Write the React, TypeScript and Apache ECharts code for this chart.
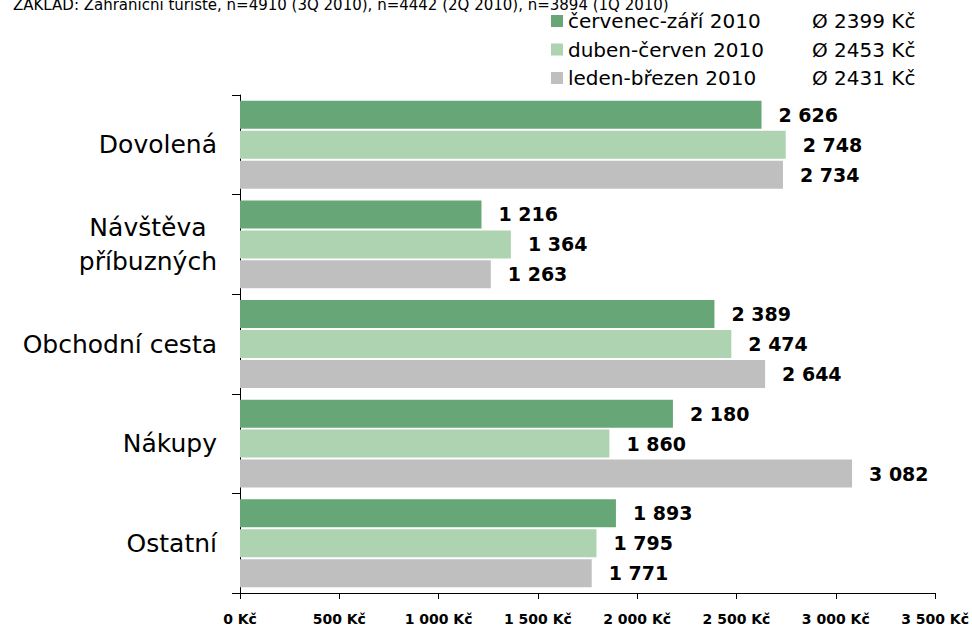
import React, { useEffect, useRef } from "react";
import * as echarts from "echarts";

const categories = ["Dovolená", "Návštěva\npříbuzných", "Obchodní cesta", "Nákupy", "Ostatní"];
const seriesNames = ["červenec-září 2010", "duben-červen 2010", "leden-březen 2010"];
const seriesAverages = [2399, 2453, 2431];
const q3Values = [2626, 1216, 2389, 2180, 1893];
const q2Values = [2748, 1364, 2474, 1860, 1795];
const q1Values = [2734, 1263, 2644, 3082, 1771];
const colors = ["#67a677", "#add3b1", "#bfbfbf"];
const xTicks = { min: 0, max: 3500, interval: 500 };
const noteText = "ZÁKLAD: Zahraniční turisté, n=4910 (3Q 2010), n=4442 (2Q 2010), n=3894 (1Q 2010)";

const FONT = "'DejaVu Sans', Verdana, sans-serif";
const fmt = (v: number) => String(v).replace(/\B(?=(\d{3})+(?!\d))/g, " ");

export default function App() {
  const ref = useRef<HTMLDivElement>(null);
  useEffect(() => {
    if (!ref.current) return;
    const chart = echarts.init(ref.current, null, { renderer: "svg" });
    const values = [q3Values, q2Values, q1Values];
    chart.setOption({
      animation: false,
      backgroundColor: "#ffffff",
      textStyle: { fontFamily: FONT },
      graphic: [
        {
          type: "text",
          left: 13,
          top: -3,
          style: { text: noteText, font: `15px ${FONT}`, fill: "#000" },
        },
      ],
      legend: {
        orient: "vertical",
        left: 546,
        top: 6,
        itemWidth: 12,
        itemHeight: 12,
        itemGap: 8.5,
        icon: "rect",
        data: seriesNames,
        formatter: (name: string) => {
          const i = seriesNames.indexOf(name);
          return `{n|${name}}{v|Ø ${seriesAverages[i]} Kč}`;
        },
        textStyle: {
          rich: {
            n: { width: 244, fontSize: 20, fontFamily: FONT, color: "#000", lineHeight: 22 },
            v: { fontSize: 20, fontFamily: FONT, color: "#000", lineHeight: 22 },
          },
        },
      },
      grid: { left: 240, right: 33, top: 95, bottom: 33, containLabel: false },
      xAxis: {
        type: "value",
        min: xTicks.min,
        max: xTicks.max,
        interval: xTicks.interval,
        splitLine: { show: false },
        axisLine: { show: true, lineStyle: { color: "#000", width: 1 } },
        axisTick: { show: true, length: 6, lineStyle: { color: "#000" } },
        axisLabel: {
          margin: 19,
          fontSize: 14,
          fontWeight: "bold",
          fontFamily: FONT,
          color: "#000",
          formatter: (v: number) => `${fmt(v)} Kč`,
        },
      },
      yAxis: {
        type: "category",
        inverse: true,
        data: categories,
        axisLine: { show: true, lineStyle: { color: "#000", width: 1 } },
        axisTick: { show: true, length: 8, lineStyle: { color: "#000" } },
        axisLabel: {
          margin: 23,
          fontSize: 25,
          fontFamily: FONT,
          color: "#000",
          formatter: (v: string) =>
            v.includes("\n") ? v.split("\n").map((s) => `{c|${s}}`).join("\n") : v,
          rich: {
            c: { align: "center", fontSize: 25, fontFamily: FONT, color: "#000", lineHeight: 34 },
          },
        },
      },
      series: seriesNames.map((name, i) => ({
        name,
        type: "bar",
        data: values[i],
        barWidth: 28,
        barGap: "7%",
        itemStyle: { color: colors[i] },
        label: {
          show: true,
          position: "right",
          distance: 17,
          fontSize: 19,
          fontWeight: "bold",
          fontFamily: FONT,
          color: "#000",
          formatter: (p: any) => fmt(p.value),
        },
      })),
    });
    return () => chart.dispose();
  }, []);
  return <div ref={ref} style={{ width: 972, height: 626, position: "fixed", left: 0, top: 0 }} />;
}
